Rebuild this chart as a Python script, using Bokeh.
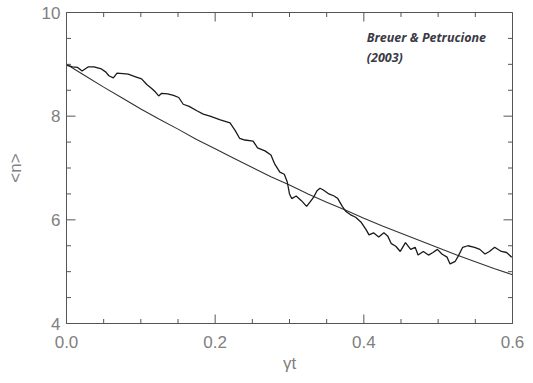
import numpy as np
from bokeh.plotting import figure
from bokeh.models import Range1d, FixedTicker, Label
from bokeh.embed import file_html
from bokeh.resources import INLINE

# ---- data ----
gt_sim = [0.000, 0.004, 0.008, 0.015, 0.021, 0.025, 0.029, 0.037, 0.047, 0.053,
          0.057, 0.063, 0.068, 0.076, 0.083, 0.093, 0.101, 0.108, 0.115, 0.120,
          0.124, 0.128, 0.136, 0.144, 0.151, 0.157, 0.165, 0.176, 0.184, 0.193,
          0.207, 0.220, 0.227, 0.233, 0.240, 0.251, 0.257, 0.267, 0.275, 0.280,
          0.287, 0.293, 0.297, 0.300, 0.303, 0.309, 0.316, 0.323, 0.328, 0.333,
          0.337, 0.341, 0.345, 0.353, 0.360, 0.365, 0.371, 0.376, 0.383, 0.389,
          0.396, 0.403, 0.407, 0.413, 0.420, 0.427, 0.432, 0.437, 0.443, 0.449,
          0.456, 0.463, 0.469, 0.473, 0.480, 0.487, 0.493, 0.499, 0.505, 0.512,
          0.516, 0.523, 0.527, 0.533, 0.540, 0.549, 0.556, 0.563, 0.569, 0.576,
          0.585, 0.592, 0.599]
n_sim = [8.98, 8.97, 8.95, 8.94, 8.87, 8.91, 8.95, 8.95, 8.91, 8.85,
         8.78, 8.74, 8.83, 8.82, 8.81, 8.76, 8.72, 8.61, 8.53, 8.46,
         8.39, 8.44, 8.43, 8.40, 8.36, 8.23, 8.19, 8.10, 8.04, 8.00,
         7.93, 7.87, 7.72, 7.57, 7.54, 7.52, 7.39, 7.33, 7.25, 7.08,
         6.92, 6.88, 6.73, 6.50, 6.41, 6.46, 6.37, 6.26, 6.35, 6.45,
         6.56, 6.61, 6.58, 6.50, 6.46, 6.41, 6.26, 6.16, 6.09, 6.05,
         5.96, 5.81, 5.71, 5.75, 5.67, 5.75, 5.69, 5.54, 5.49, 5.39,
         5.56, 5.43, 5.47, 5.32, 5.39, 5.32, 5.37, 5.43, 5.34, 5.28,
         5.15, 5.20, 5.30, 5.47, 5.50, 5.47, 5.43, 5.34, 5.39, 5.47,
         5.39, 5.37, 5.28]

gt_theory = [0.000, 0.025, 0.050, 0.075, 0.100, 0.125, 0.150, 0.175, 0.200,
             0.225, 0.250, 0.275, 0.300, 0.325, 0.350, 0.375, 0.400, 0.425,
             0.450, 0.475, 0.500, 0.525, 0.550, 0.575, 0.600]
n_theory = [9.00, 8.78, 8.56, 8.35, 8.14, 7.94, 7.75, 7.55, 7.37,
            7.19, 7.01, 6.83, 6.67, 6.50, 6.34, 6.19, 6.03, 5.88,
            5.74, 5.60, 5.46, 5.32, 5.19, 5.06, 4.94]

x_ticks = [0.0, 0.2, 0.4, 0.6]
x_tick_labels = ["0.0", "0.2", "0.4", "0.6"]
x_minor = [0.05, 0.10, 0.15, 0.25, 0.30, 0.35, 0.45, 0.50, 0.55]
y_ticks = [4, 6, 8, 10]
y_tick_labels = ["4", "6", "8", "10"]
y_minor = [4.5, 5.0, 5.5, 6.5, 7.0, 7.5, 8.5, 9.0, 9.5]

X0, X1, Y0, Y1 = 0.0, 0.6, 4.0, 10.0

# ---- figure ----
TICK_FONT = "Liberation Sans"
TICK_COLOR = "#808080"
AX_COLOR = "#555555"

p = figure(width=525, height=375, output_backend="svg", toolbar_location=None,
           x_range=Range1d(X0, X1), y_range=Range1d(Y0, Y1),
           min_border_left=66, min_border_right=13, min_border_top=12,
           min_border_bottom=50)
p.grid.visible = False
p.outline_line_color = AX_COLOR
p.background_fill_color = "white"
p.border_fill_color = "white"

p.xaxis.ticker = FixedTicker(ticks=x_ticks)
p.yaxis.ticker = FixedTicker(ticks=y_ticks)
p.xaxis.major_label_overrides = dict(zip(x_ticks, x_tick_labels))
p.yaxis.major_label_overrides = dict(zip(y_ticks, y_tick_labels))
p.xaxis.axis_label = "\u03b3t"
p.yaxis.axis_label = "<n>"
for ax in (p.xaxis[0], p.yaxis[0]):
    ax.axis_line_color = AX_COLOR
    ax.major_tick_line_color = None
    ax.minor_tick_line_color = None
    ax.major_tick_out = 0
    ax.minor_tick_out = 0
    ax.major_label_text_font = TICK_FONT
    ax.major_label_text_font_size = "17px"
    ax.major_label_text_color = TICK_COLOR
    ax.axis_label_text_font = TICK_FONT
    ax.axis_label_text_font_size = "17px"
    ax.axis_label_text_color = TICK_COLOR
    ax.axis_label_text_font_style = "normal"
p.xaxis.major_label_standoff = 12
p.yaxis.major_label_standoff = 6
p.xaxis.axis_label_standoff = 3
p.yaxis.axis_label_standoff = 14

# inward ticks on all four sides (half of each dash is clipped by the frame)
def ticks_h(vals, size):
    n = len(vals)
    for xe in (X0, X1):
        p.scatter([xe] * n, vals, marker="dash", size=size,
                  line_color=AX_COLOR, line_width=1)

def ticks_v(vals, size):
    n = len(vals)
    for ye in (Y0, Y1):
        p.scatter(vals, [ye] * n, marker="dash", size=size, angle=np.pi / 2,
                  line_color=AX_COLOR, line_width=1)

ticks_h(y_ticks, 18)
ticks_h(y_minor, 9)
ticks_v(x_ticks, 18)
ticks_v(x_minor, 9)

p.line(gt_theory, n_theory, line_color="#333333", line_width=1.1)
p.line(gt_sim, n_sim, line_color="#1a1a1a", line_width=1.3)

lab1 = Label(x=0.404, y=9.68, text="Breuer & Petrucione", text_font="Open Sans",
             text_font_style="bold italic", text_font_size="12.5px",
             text_color="#3a3a44", text_baseline="top")
lab2 = Label(x=0.404, y=9.30, text="(2003)", text_font="Open Sans",
             text_font_style="bold italic", text_font_size="12.5px",
             text_color="#3a3a44", text_baseline="top")
p.add_layout(lab1)
p.add_layout(lab2)

open("out.html", "w").write(file_html(p, INLINE))
